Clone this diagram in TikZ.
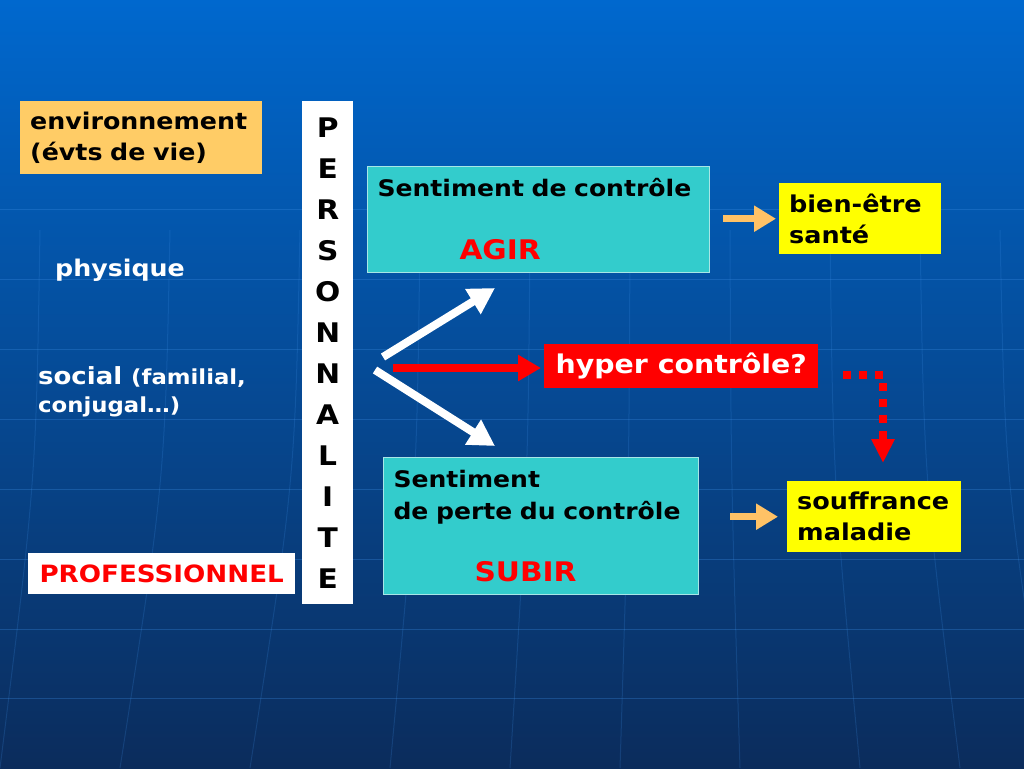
\documentclass[tikz,border=0pt]{standalone}
\usepackage{fontspec}
\setmainfont{DejaVu Sans}[FakeStretch=1.1]
\usetikzlibrary{arrows.meta}
\definecolor{bgtop}{HTML}{0068CE}
\definecolor{bgmid}{HTML}{0653A8}
\definecolor{bgbot}{HTML}{0B2C5C}
\definecolor{gridln}{HTML}{3D8FE6}
\definecolor{envfill}{HTML}{FFCC66}
\definecolor{teal}{HTML}{33CCCC}
\definecolor{tealedge}{HTML}{A8E6E6}
\definecolor{jaune}{HTML}{FFFF00}
\definecolor{rouge}{HTML}{FF0000}
\definecolor{orarrow}{HTML}{FFC266}

\begin{document}
\begin{tikzpicture}[x=1pt,y=-1pt,
  txt/.style={font=\bfseries\fontsize{23}{28}\selectfont,inner sep=0pt,align=left},
  box/.style={txt,anchor=north west,inner xsep=10pt,inner ysep=0pt,align=left},
  sent/.style={box,fill=teal,draw=tealedge,line width=1pt,font=\bfseries\fontsize{22.8}{32}\selectfont},
  res/.style={box,fill=jaune,font=\bfseries\fontsize{23.2}{31}\selectfont},
  warr/.style={draw=white,line width=8pt,-{Triangle[length=26pt,width=28pt]}},
  rarr/.style={draw=rouge,line width=8pt,-{Triangle[length=23pt,width=25pt]}},
  orarr/.style={draw=orarrow,line width=7pt,-{Triangle[length=22pt,width=25pt]}},
  dotarr/.style={draw=rouge,line width=8pt,dash pattern=on 8pt off 8pt,-{Triangle[length=24pt,width=22pt]}}]
  % fond
  \useasboundingbox (0,0) rectangle (1024,768);
  \shade[top color=bgtop,middle color=bgmid,bottom color=bgbot] (0,0) rectangle (1024,768);
  \foreach \y in {209,279,349,419,489,559,629,698}
    \draw[gridln,opacity=0.3,line width=1pt] (0,\y) -- (1024,\y);
  \foreach \a/\b in {40/0,170/120,300/250,420/390,530/510,630/620,730/740,830/860,920/960,1000/1050}
    \draw[gridln,opacity=0.2,line width=1pt] (\a,230) .. controls (\a+0.1*\b-0.1*\a,480) .. (\b,768);
  % gauche
  \node[box,fill=envfill,text width=222pt,minimum height=73pt,
    font=\bfseries\fontsize{23}{31}\selectfont] (env) at (20,101)
    {environnement\\(évts de vie)};
  \node[txt,white,anchor=base west] (phys) at (55,276) {physique};
  \node[txt,white,anchor=north west,font=\bfseries\fontsize{23.6}{28}\selectfont] (soc) at (38,366)
    {social {\fontsize{20.7}{28}\selectfont(familial,}\\{\fontsize{20.7}{28}\selectfont conjugal…)}};
  \node[box,fill=white,text=rouge,minimum width=267pt,minimum height=41pt,anchor=west,
    inner xsep=0pt,align=center,font=\bfseries\fontsize{23.8}{28}\selectfont] (pro) at (28,573.5)
    {PROFESSIONNEL};
  \node[txt,fill=white,anchor=north west,minimum width=51pt,minimum height=503pt,align=center,
    font=\bfseries\fontsize{27}{41}\selectfont] (perso) at (302,101)
    {P\\E\\R\\S\\O\\N\\N\\A\\L\\I\\T\\E};
  % centre
  \node[sent,text width=322pt,minimum height=106pt] (agir) at (367,166)
    {Sentiment de contrôle\\[31pt]\hspace*{82pt}{\color{rouge}\fontsize{27}{28}\selectfont AGIR}};
  \node[sent,text width=295pt,minimum height=137pt] (subir) at (383,457)
    {Sentiment\\de perte du contrôle\\[30pt]\hspace*{81pt}{\color{rouge}\fontsize{27}{28}\selectfont SUBIR}};
  \node[box,fill=rouge,text=white,minimum width=274pt,minimum height=44pt,anchor=west,
    inner xsep=0pt,align=center,font=\bfseries\fontsize{25.8}{28}\selectfont] (hyp) at (544,366)
    {hyper contrôle?};
  % droite
  \node[res,text width=142pt,minimum height=71pt] (bien) at (779,183) {bien-être\\santé};
  \node[res,text width=154pt,minimum height=71pt] (souf) at (787,481) {souffrance\\maladie};
  % fleches
  \coordinate (up0) at (383,357);
  \coordinate (up1) at (495,288);
  \coordinate (dn0) at (375,370);
  \coordinate (dn1) at (495,446);
  \coordinate (rd0) at (393,368);
  \coordinate (dt0) at (843,375);
  \coordinate (dt1) at (883,463);
  \draw[warr] (up0) -- (up1);
  \draw[warr] (dn0) -- (dn1);
  \draw[rarr,shorten >=3pt] (rd0) -- (rd0 -| hyp.west);
  \draw[dotarr] (dt0) -| (dt1);
  \draw[orarr,shorten <=13pt,shorten >=3pt] (agir.east |- bien.west) -- (bien.west);
  \draw[orarr,shorten <=31pt,shorten >=9pt] (subir.east |- souf.west) -- (souf.west);
\end{tikzpicture}
\end{document}
